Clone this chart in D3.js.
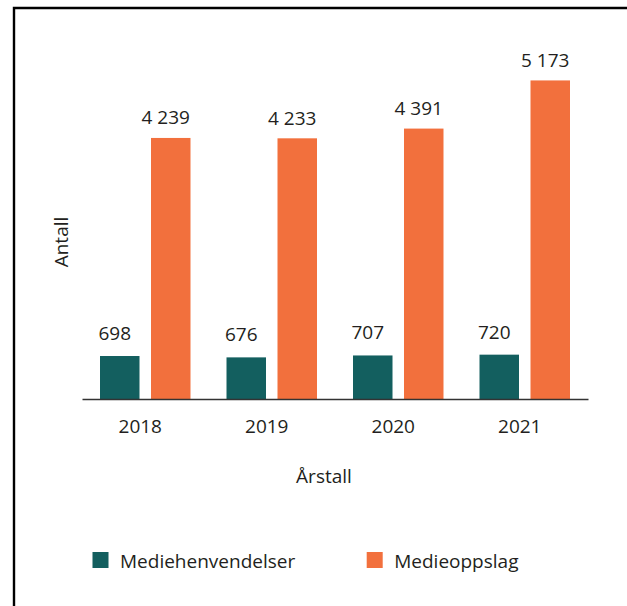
<!DOCTYPE html>
<html>
<head>
<meta charset="utf-8">
<script src="https://cdn.jsdelivr.net/npm/d3@7"></script>
<style>
  body { margin: 0; background: #fff; }
  text { font-family: 'Open Sans', sans-serif; fill: #231f20; }
</style>
</head>
<body>
<div class="chart"></div>
<script>
'use strict';

var years = ['2018', '2019', '2020', '2021'];
var seriesNames = ['Mediehenvendelser', 'Medieoppslag'];
var mediehenvendelser = [698, 676, 707, 720];
var medieoppslag = [4239, 4233, 4391, 5173];
var seriesColors = ['#135f5f', '#f2703d'];

var width = 627,
    height = 606;

var svg = d3.select('.chart').append('svg')
    .attr('width', width)
    .attr('height', height);

// frame (only top and left edges are visible in the crop)
svg.append('path')
    .attr('d', 'M14,' + height + 'V8H' + width)
    .attr('fill', 'none')
    .attr('stroke', '#000')
    .attr('stroke-width', 2.4);

var rows = years.map(function(year, i) {
  return { year: year, values: [mediehenvendelser[i], medieoppslag[i]] };
});

var x0 = d3.scaleBand()
    .domain(years)
    .range([82, 588])
    .padding(0);

var x1 = d3.scaleBand()
    .domain(seriesNames)
    .range([0, x0.bandwidth()])
    .paddingInner(0.2255)
    .paddingOuter(0.353);

var y = d3.scaleLinear()
    .domain([0, 6000])
    .range([399, 29.5]);

var color = d3.scaleOrdinal()
    .domain(seriesNames)
    .range(seriesColors);

var fmt = d3.formatLocale({ decimal: ',', thousands: '\u00a0', grouping: [3], currency: ['', ''] }).format(',d');

var group = svg.append('g')
  .selectAll('g')
  .data(rows)
  .enter().append('g')
    .attr('transform', function(d) { return 'translate(' + x0(d.year) + ',0)'; });

var cells = group.selectAll('g')
  .data(function(d) {
    return d.values.map(function(v, i) { return { key: seriesNames[i], value: v }; });
  })
  .enter().append('g');

cells.append('rect')
    .attr('x', function(d) { return x1(d.key); })
    .attr('y', function(d) { return y(d.value); })
    .attr('width', x1.bandwidth())
    .attr('height', function(d) { return y(0) - y(d.value); })
    .attr('fill', function(d) { return color(d.key); });

cells.append('text')
    .attr('x', function(d) { return x1(d.key) + x1.bandwidth() / 2 - 5; })
    .attr('y', function(d) { return y(d.value) - (d.key === seriesNames[0] ? 16 : 13.5); })
    .attr('text-anchor', 'middle')
    .style('font-size', '19px')
    .text(function(d) { return fmt(d.value); });

var xAxis = svg.append('g')
    .attr('transform', 'translate(0,' + y(0) + ')')
    .call(d3.axisBottom(x0).tickSize(0).tickPadding(20.5));

xAxis.select('.domain')
    .attr('stroke', '#333')
    .attr('stroke-width', 1.5);

xAxis.selectAll('text')
    .attr('dx', -5)
    .style('font-family', "'Open Sans', sans-serif")
    .style('font-size', '19px')
    .attr('fill', '#231f20');

svg.append('text')
    .attr('x', 324)
    .attr('y', 483)
    .attr('text-anchor', 'middle')
    .style('font-size', '19px')
    .text('Årstall');

svg.append('text')
    .attr('transform', 'translate(68,242) rotate(-90)')
    .attr('text-anchor', 'middle')
    .style('font-size', '19px')
    .text('Antall');

// legend
var legendX = [92.5, 366.7];
var legend = svg.append('g')
  .selectAll('g')
  .data(seriesNames)
  .enter().append('g')
    .attr('transform', function(d, i) { return 'translate(' + legendX[i] + ',552)'; });

legend.append('rect')
    .attr('width', 16)
    .attr('height', 16)
    .attr('fill', function(d) { return color(d); });

legend.append('text')
    .attr('x', 27.5)
    .attr('y', 16)
    .style('font-size', '19px')
    .text(function(d) { return d; });
</script>
</body>
</html>
